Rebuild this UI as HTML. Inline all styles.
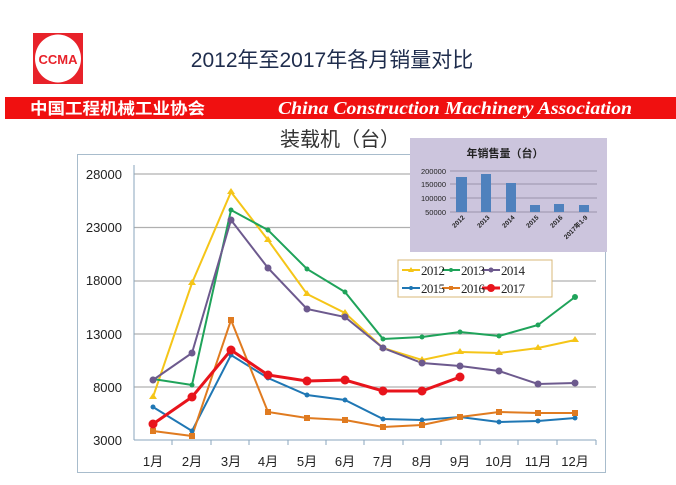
<!DOCTYPE html>
<html><head><meta charset="utf-8"><style>
body{margin:0;width:676px;height:480px;background:#fff;overflow:hidden}
</style></head><body>
<svg width="676" height="480" xmlns="http://www.w3.org/2000/svg" font-family="Liberation Sans, Noto Sans CJK SC, sans-serif">
<rect x="33" y="33" width="50" height="51" fill="#e8222a"/>
<ellipse cx="58" cy="58.5" rx="23" ry="24" fill="#fff"/>
<text x="58" y="64" font-size="13" font-weight="bold" fill="#e8222a" text-anchor="middle">CCMA</text>
<text x="332" y="67" font-size="21" fill="#1f2d4d" text-anchor="middle">2012年至2017年各月销量对比</text>
<rect x="5" y="97" width="671" height="22" fill="#f01010"/>
<text x="30" y="114" font-size="16" font-weight="bold" fill="#fff" textLength="175" lengthAdjust="spacingAndGlyphs">中国工程机械工业协会</text>
<text x="278" y="114" font-size="18" font-weight="bold" font-style="italic" fill="#fff" font-family="Liberation Serif, serif" textLength="354" lengthAdjust="spacingAndGlyphs">China Construction Machinery Association</text>
<text x="340" y="146" font-size="20" fill="#333" text-anchor="middle">装载机（台）</text>
<rect x="77.5" y="154.5" width="528" height="318" fill="none" stroke="#a8bccc" stroke-width="1"/>
<g stroke="#b0b0b0" stroke-width="1.2">
<line x1="134" y1="174" x2="596" y2="174"/><line x1="134" y1="227.5" x2="596" y2="227.5"/>
<line x1="134" y1="281" x2="596" y2="281"/><line x1="134" y1="334" x2="596" y2="334"/>
<line x1="134" y1="387" x2="596" y2="387"/></g>
<line x1="134" y1="165" x2="134" y2="440" stroke="#8aa6bc"/>
<line x1="134" y1="440" x2="596" y2="440" stroke="#8aa6bc"/>
<g stroke="#8aa6bc">
<line x1="172" y1="440" x2="172" y2="445"/><line x1="211" y1="440" x2="211" y2="445"/><line x1="249" y1="440" x2="249" y2="445"/><line x1="288" y1="440" x2="288" y2="445"/><line x1="326" y1="440" x2="326" y2="445"/><line x1="364" y1="440" x2="364" y2="445"/><line x1="403" y1="440" x2="403" y2="445"/><line x1="441" y1="440" x2="441" y2="445"/><line x1="480" y1="440" x2="480" y2="445"/><line x1="518" y1="440" x2="518" y2="445"/><line x1="557" y1="440" x2="557" y2="445"/><line x1="596" y1="440" x2="596" y2="445"/></g>
<g font-size="13" fill="#222" text-anchor="end">
<text x="122" y="179">28000</text><text x="122" y="232">23000</text><text x="122" y="285">18000</text><text x="122" y="339">13000</text><text x="122" y="392">8000</text><text x="122" y="445">3000</text></g>
<g font-size="13" fill="#222" text-anchor="middle">
<text x="153" y="466">1月</text><text x="192" y="466">2月</text><text x="231" y="466">3月</text><text x="268" y="466">4月</text><text x="307" y="466">5月</text><text x="345" y="466">6月</text><text x="383" y="466">7月</text><text x="422" y="466">8月</text><text x="460" y="466">9月</text><text x="499" y="466">10月</text><text x="538" y="466">11月</text><text x="575" y="466">12月</text></g>
<g fill="none" stroke-width="2">
<polyline stroke="#f5c518" points="153,397 192,283 231,192 268,240 307,294 345,313 383,348 422,360 460,352 499,353 538,348 575,340"/>
<polyline stroke="#1fa35a" points="153,379 192,385 231,210 268,230 307,269 345,292 383,339 422,337 460,332 499,336 538,325 575,297"/>
<polyline stroke="#6d5a8e" points="153,380 192,353 231,220 268,268 307,309 345,317 383,348 422,363 460,366 499,371 538,384 575,383"/>
<polyline stroke="#1f77b4" points="153,407 192,431 231,355 268,378 307,395 345,400 383,419 422,420 460,417 499,422 538,421 575,418"/>
<polyline stroke="#e07b20" points="153,431 192,436 231,320 268,412 307,418 345,420 383,427 422,425 460,417 499,412 538,413 575,413"/>
<polyline stroke="#e8141c" stroke-width="3" points="153,424 192,397 231,350 268,375 307,381 345,380 383,391 422,391 460,377"/>
</g>
<g fill="#f5c518"><path d="M153,393l4,6h-8z M192,279l4,6h-8z M231,188l4,6h-8z M268,236l4,6h-8z M307,290l4,6h-8z M345,309l4,6h-8z M383,344l4,6h-8z M422,356l4,6h-8z M460,348l4,6h-8z M499,349l4,6h-8z M538,344l4,6h-8z M575,336l4,6h-8z"/></g>
<g fill="#1fa35a"><circle cx="153" cy="379" r="2.5"/><circle cx="192" cy="385" r="2.5"/><circle cx="231" cy="210" r="2.5"/><circle cx="268" cy="230" r="2.5"/><circle cx="307" cy="269" r="2.5"/><circle cx="345" cy="292" r="2.5"/><circle cx="383" cy="339" r="2.5"/><circle cx="422" cy="337" r="2.5"/><circle cx="460" cy="332" r="2.5"/><circle cx="499" cy="336" r="2.5"/><circle cx="538" cy="325" r="2.5"/><circle cx="575" cy="297" r="3"/></g>
<g fill="#6d5a8e"><circle cx="153" cy="380" r="3.5"/><circle cx="192" cy="353" r="3.5"/><circle cx="231" cy="220" r="3.5"/><circle cx="268" cy="268" r="3.5"/><circle cx="307" cy="309" r="3.5"/><circle cx="345" cy="317" r="3.5"/><circle cx="383" cy="348" r="3.5"/><circle cx="422" cy="363" r="3.5"/><circle cx="460" cy="366" r="3.5"/><circle cx="499" cy="371" r="3.5"/><circle cx="538" cy="384" r="3.5"/><circle cx="575" cy="383" r="3.5"/></g>
<g fill="#1f77b4"><circle cx="153" cy="407" r="2.5"/><circle cx="192" cy="431" r="2.5"/><circle cx="231" cy="355" r="2.5"/><circle cx="268" cy="378" r="2.5"/><circle cx="307" cy="395" r="2.5"/><circle cx="345" cy="400" r="2.5"/><circle cx="383" cy="419" r="2.5"/><circle cx="422" cy="420" r="2.5"/><circle cx="460" cy="417" r="2.5"/><circle cx="499" cy="422" r="2.5"/><circle cx="538" cy="421" r="2.5"/><circle cx="575" cy="418" r="2.5"/></g>
<g fill="#e07b20"><rect x="150" y="428" width="6" height="6"/><rect x="189" y="433" width="6" height="6"/><rect x="228" y="317" width="6" height="6"/><rect x="265" y="409" width="6" height="6"/><rect x="304" y="415" width="6" height="6"/><rect x="342" y="417" width="6" height="6"/><rect x="380" y="424" width="6" height="6"/><rect x="419" y="422" width="6" height="6"/><rect x="457" y="414" width="6" height="6"/><rect x="496" y="409" width="6" height="6"/><rect x="535" y="410" width="6" height="6"/><rect x="572" y="410" width="6" height="6"/></g>
<g fill="#e8141c"><circle cx="153" cy="424" r="4.5"/><circle cx="192" cy="397" r="4.5"/><circle cx="231" cy="350" r="4.5"/><circle cx="268" cy="375" r="4.5"/><circle cx="307" cy="381" r="4.5"/><circle cx="345" cy="380" r="4.5"/><circle cx="383" cy="391" r="4.5"/><circle cx="422" cy="391" r="4.5"/><circle cx="460" cy="377" r="4.5"/></g>
<!-- legend -->
<rect x="398" y="260" width="154" height="37" fill="#fff" stroke="#d8b878"/>
<g stroke-width="2"><line x1="402" y1="270" x2="420" y2="270" stroke="#f5c518"/><line x1="442" y1="270" x2="460" y2="270" stroke="#1fa35a"/><line x1="482" y1="270" x2="500" y2="270" stroke="#6d5a8e"/>
<line x1="402" y1="288" x2="420" y2="288" stroke="#1f77b4"/><line x1="442" y1="288" x2="460" y2="288" stroke="#e07b20"/><line x1="482" y1="288" x2="500" y2="288" stroke="#e8141c" stroke-width="3"/></g>
<circle cx="491" cy="288" r="4" fill="#e8141c"/><circle cx="491" cy="270" r="2.5" fill="#6d5a8e"/><circle cx="411" cy="288" r="2" fill="#1f77b4"/><rect x="449" y="286" width="4" height="4" fill="#e07b20"/><path d="M411,267l3,5h-6z" fill="#f5c518"/><circle cx="451" cy="270" r="2" fill="#1fa35a"/>
<g font-size="13" fill="#222" font-family="Liberation Serif, serif"><text x="421" y="275" textLength="24">2012</text><text x="461" y="275" textLength="24">2013</text><text x="501" y="275" textLength="24">2014</text><text x="421" y="293" textLength="24">2015</text><text x="461" y="293" textLength="24">2016</text><text x="501" y="293" textLength="24">2017</text></g>
<!-- inset -->
<rect x="410" y="138" width="197" height="114" fill="#ccc5dd"/>
<text x="505" y="157" font-size="11" font-weight="bold" fill="#222" text-anchor="middle">年销售量（台）</text>
<g stroke="#9a94ac" stroke-width="1"><line x1="450" y1="171" x2="597" y2="171"/><line x1="450" y1="184" x2="597" y2="184"/><line x1="450" y1="198" x2="597" y2="198"/><line x1="450" y1="212" x2="597" y2="212"/></g>
<g font-size="7.5" fill="#222" text-anchor="end"><text x="446" y="174">200000</text><text x="446" y="187">150000</text><text x="446" y="201">100000</text><text x="446" y="215">50000</text></g>
<g fill="#4f81bd"><rect x="456" y="177" width="11" height="35"/><rect x="481" y="174" width="10" height="38"/><rect x="506" y="183" width="10" height="29"/><rect x="530" y="205" width="10" height="7"/><rect x="554" y="204" width="10" height="8"/><rect x="579" y="205" width="10" height="7"/></g>
<g font-size="6.5" font-weight="bold" fill="#222" text-anchor="end">
<text transform="translate(465,218) rotate(-45)">2012</text><text transform="translate(490,218) rotate(-45)">2013</text><text transform="translate(515,218) rotate(-45)">2014</text><text transform="translate(539,218) rotate(-45)">2015</text><text transform="translate(563,218) rotate(-45)">2016</text><text transform="translate(588,218) rotate(-45)">2017年1-9</text></g>
</svg>
</body></html>
